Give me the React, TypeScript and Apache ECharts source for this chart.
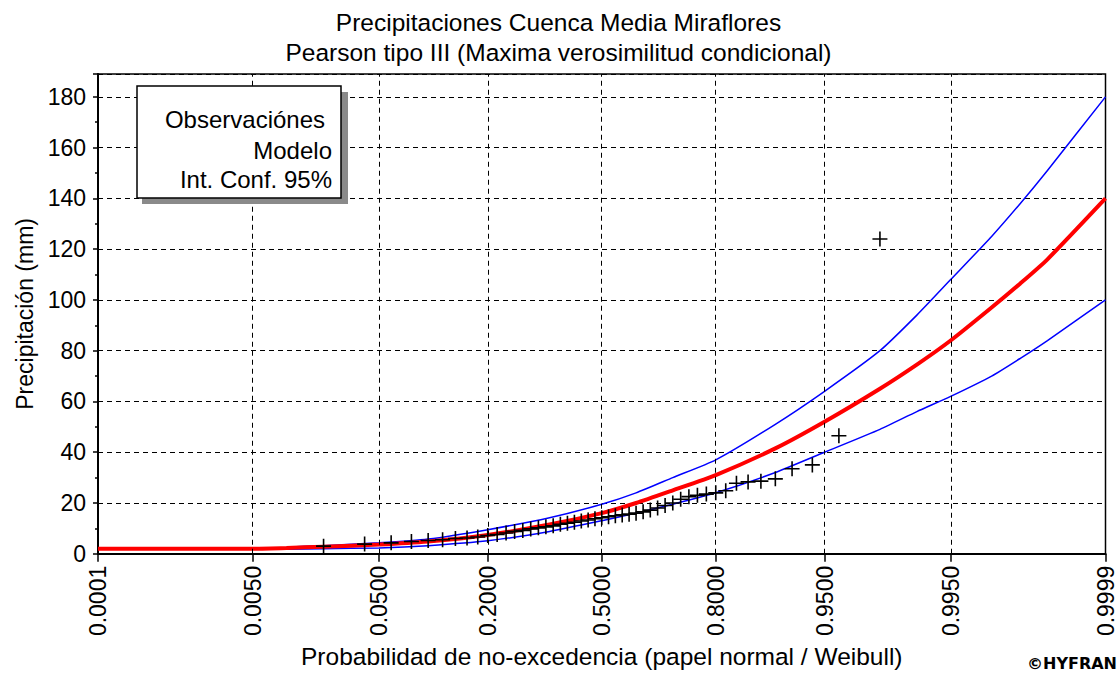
import React, { useEffect, useRef } from 'react';
import * as echarts from 'echarts';

const titleLines = ['Precipitaciones Cuenca Media Miraflores', 'Pearson tipo III (Maxima verosimilitud condicional)'];
const xAxisName = 'Probabilidad de no-excedencia (papel normal / Weibull)';
const yAxisName = 'Precipitación (mm)';
const legendTexts = ['Observaciónes', 'Modelo', 'Int. Conf. 95%'];

const tickProbs = [0.0001, 0.005, 0.05, 0.2, 0.5, 0.8, 0.95, 0.995, 0.9999];
const tickLabels = ['0.0001', '0.0050', '0.0500', '0.2000', '0.5000', '0.8000', '0.9500', '0.9950', '0.9999'];
const gridProbs = [0.005, 0.05, 0.2, 0.5, 0.8, 0.95, 0.995];

const obsProb = [
  0.02, 0.04, 0.06, 0.08, 0.1, 0.12, 0.14, 0.16, 0.18, 0.2,
  0.22, 0.24, 0.26, 0.28, 0.3, 0.32, 0.34, 0.36, 0.38, 0.4,
  0.42, 0.44, 0.46, 0.48, 0.5, 0.52, 0.54, 0.56, 0.58, 0.6,
  0.62, 0.64, 0.66, 0.68, 0.7, 0.72, 0.74, 0.76, 0.78, 0.8,
  0.82, 0.84, 0.86, 0.88, 0.9, 0.92, 0.94, 0.96, 0.98,
];
const obsValue = [
  3.0, 3.8, 4.3, 4.8, 5.2, 5.5, 6.0, 6.2, 6.6, 7.2,
  7.6, 8.2, 8.8, 9.2, 9.8, 10.2, 10.6, 11.0, 11.6, 12.0,
  12.4, 12.9, 13.3, 13.8, 14.2, 14.6, 15.0, 15.3, 15.6, 16.0,
  16.5, 17.2, 18.0, 19.0, 20.0, 21.5, 22.5, 23.0, 23.5, 24.0,
  24.8, 27.8, 28.3, 28.6, 29.5, 33.5, 35.0, 46.5, 124,
];

const modelProb = [0.0001, 0.001, 0.005, 0.01, 0.02, 0.05, 0.1, 0.2, 0.35, 0.5, 0.6, 0.7, 0.8, 0.9, 0.95, 0.98, 0.99, 0.995, 0.998, 0.999, 0.9995, 0.9999];
const modelValue = [2.0, 2.0, 2.0, 2.3, 2.8, 3.6, 4.8, 7.4, 11.5, 16, 20, 25, 31, 41.5, 52, 65, 74.5, 84, 97, 106.5, 116, 140];

const ciProb = [0.01, 0.02, 0.05, 0.1, 0.2, 0.35, 0.5, 0.6, 0.7, 0.8, 0.9, 0.95, 0.98, 0.99, 0.995, 0.998, 0.999, 0.9995, 0.9999];
const ciUpper = [2.6, 3.2, 4.3, 5.8, 9.5, 14.2, 19.5, 24, 30, 37, 51, 64, 80, 94, 108, 125, 138, 151, 180];
const ciLower = [1.8, 2.0, 2.3, 3.2, 5.1, 8.8, 13, 16, 19.5, 24, 32, 40, 49, 56, 62, 70, 77, 84, 100];

// inverse standard normal CDF (normal probability paper scale)
function normInv(p: number): number {
  const a = [-3.969683028665376e1, 2.209460984245205e2, -2.759285104469687e2, 1.38357751867269e2, -3.066479806614716e1, 2.506628277459239];
  const b = [-5.447609879822406e1, 1.615858368580409e2, -1.556989798598866e2, 6.680131188771972e1, -1.328068155288572e1];
  const c = [-7.784894002430293e-3, -3.223964580411365e-1, -2.400758277161838, -2.549732539343734, 4.374664141464968, 2.938163982698783];
  const d = [7.784695709041462e-3, 3.224671290700398e-1, 2.445134137142996, 3.754408661907416];
  const pl = 0.02425;
  if (p < pl) {
    const q = Math.sqrt(-2 * Math.log(p));
    return (((((c[0] * q + c[1]) * q + c[2]) * q + c[3]) * q + c[4]) * q + c[5]) / ((((d[0] * q + d[1]) * q + d[2]) * q + d[3]) * q + 1);
  }
  if (p <= 1 - pl) {
    const q = p - 0.5;
    const r = q * q;
    return ((((((a[0] * r + a[1]) * r + a[2]) * r + a[3]) * r + a[4]) * r + a[5]) * q) / (((((b[0] * r + b[1]) * r + b[2]) * r + b[3]) * r + b[4]) * r + 1);
  }
  const q = Math.sqrt(-2 * Math.log(1 - p));
  return -(((((c[0] * q + c[1]) * q + c[2]) * q + c[3]) * q + c[4]) * q + c[5]) / ((((d[0] * q + d[1]) * q + d[2]) * q + d[3]) * q + 1);
}

const FONT = '"Liberation Sans", Arial, sans-serif';

export default function App() {
  const ref = useRef<HTMLDivElement>(null);
  useEffect(() => {
    if (!ref.current) return;
    const chart = echarts.init(ref.current, null, { renderer: 'svg' });
    const tickZ = tickProbs.map(normInv);
    const labelFor = (v: number) => {
      let best = 0;
      for (let i = 0; i < tickZ.length; i++) if (Math.abs(tickZ[i] - v) < Math.abs(tickZ[best] - v)) best = i;
      return tickLabels[best];
    };
    const gridLineStyle = { color: '#000', width: 1, type: [5, 4] as number[] };
    const option: any = {
      animation: false,
      backgroundColor: '#fff',
      textStyle: { fontFamily: FONT },
      title: {
        text: titleLines.join('\n'),
        left: 'center',
        top: 2,
        textStyle: { fontFamily: FONT, fontSize: 24.5, fontWeight: 'normal', color: '#000', lineHeight: 30 },
      },
      grid: {
        left: 98, right: 8, top: 74, bottom: 117,
        show: true, borderColor: '#000', borderWidth: 1.5, backgroundColor: '#fff',
      },
      xAxis: {
        type: 'value',
        min: normInv(0.0001),
        max: normInv(0.9999),
        name: xAxisName,
        nameLocation: 'middle',
        nameGap: 84,
        nameTextStyle: { fontFamily: FONT, fontSize: 24.5, color: '#000' },
        axisLine: { show: true, onZero: false, lineStyle: { color: '#000', width: 2 } },
        axisTick: { show: true, customValues: tickZ, length: 8, lineStyle: { color: '#000', width: 1.5 } },
        axisLabel: {
          customValues: tickZ,
          rotate: 90,
          margin: 12,
          fontFamily: FONT,
          fontSize: 23,
          color: '#000',
          showMinLabel: true,
          showMaxLabel: true,
          formatter: (v: number) => labelFor(v),
        },
        splitLine: { show: false },
      },
      yAxis: {
        type: 'value',
        min: 0,
        max: 189,
        interval: 20,
        name: yAxisName,
        nameLocation: 'middle',
        nameGap: 62,
        nameTextStyle: { fontFamily: FONT, fontSize: 23, color: '#000' },
        axisLine: { show: true, onZero: false, lineStyle: { color: '#000', width: 2 } },
        axisTick: { show: true, length: 5, lineStyle: { color: '#000', width: 1.5 } },
        minorTick: { show: true, splitNumber: 2, length: 3, lineStyle: { color: '#000', width: 1.5 } },
        axisLabel: { margin: 12, fontFamily: FONT, fontSize: 23, color: '#000', showMaxLabel: false },
        splitLine: { show: true, lineStyle: gridLineStyle },
      },
      series: [
        {
          name: 'grid',
          type: 'line',
          data: [],
          z: 1,
          silent: true,
          markLine: {
            silent: true,
            symbol: ['none', 'none'],
            label: { show: false },
            lineStyle: gridLineStyle,
            emphasis: { disabled: true },
            data: gridProbs.map((p) => ({ xAxis: normInv(p) })),
          },
        },
        {
          name: legendTexts[2],
          type: 'line',
          data: ciProb.map((p, i) => [normInv(p), ciUpper[i]]),
          showSymbol: false,
          smooth: 0.2,
          z: 3,
          lineStyle: { color: '#0000ff', width: 1.5 },
          itemStyle: { color: '#0000ff' },
        },
        {
          name: legendTexts[2] + ' ',
          type: 'line',
          data: ciProb.map((p, i) => [normInv(p), ciLower[i]]),
          showSymbol: false,
          smooth: 0.2,
          z: 3,
          lineStyle: { color: '#0000ff', width: 1.5 },
          itemStyle: { color: '#0000ff' },
        },
        {
          name: legendTexts[1],
          type: 'line',
          data: modelProb.map((p, i) => [normInv(p), modelValue[i]]),
          showSymbol: false,
          smooth: 0.2,
          z: 4,
          lineStyle: { color: '#ff0000', width: 4 },
          itemStyle: { color: '#ff0000' },
        },
        {
          name: legendTexts[0],
          type: 'scatter',
          data: obsProb.map((p, i) => [normInv(p), obsValue[i]]),
          symbol: 'path://M7,0V14M0,7H14',
          symbolSize: 15,
          z: 5,
          itemStyle: { color: 'transparent', borderColor: '#000', borderWidth: 1.6, opacity: 1 },
        },
      ],
      graphic: [
        {
          type: 'rect',
          z: 100,
          shape: { x: 142, y: 92, width: 206, height: 112 },
          style: { fill: '#8a8a8a' },
        },
        {
          type: 'rect',
          z: 101,
          shape: { x: 137, y: 86, width: 204, height: 112 },
          style: { fill: '#fff', stroke: '#000', lineWidth: 1.5 },
        },
        {
          type: 'text', z: 102, x: 325, y: 119,
          style: { text: legendTexts[0], fontFamily: FONT, fontSize: 24, fill: '#000', align: 'right', verticalAlign: 'middle' },
        },
        {
          type: 'text', z: 102, x: 332, y: 150,
          style: { text: legendTexts[1], fontFamily: FONT, fontSize: 24, fill: '#000', align: 'right', verticalAlign: 'middle' },
        },
        {
          type: 'text', z: 102, x: 332, y: 179,
          style: { text: legendTexts[2], fontFamily: FONT, fontSize: 24, fill: '#000', align: 'right', verticalAlign: 'middle' },
        },
        {
          type: 'text', z: 102, x: 1117, y: 663,
          style: { text: '©HYFRAN', fontFamily: '"DejaVu Sans", sans-serif', fontSize: 16, fontWeight: 'bold', fill: '#000', align: 'right', verticalAlign: 'middle' },
        },
      ],
    };
    chart.setOption(option);
    return () => chart.dispose();
  }, []);
  return <div ref={ref} style={{ position: 'absolute', left: 0, top: 0, width: 1117, height: 674 }} />;
}
